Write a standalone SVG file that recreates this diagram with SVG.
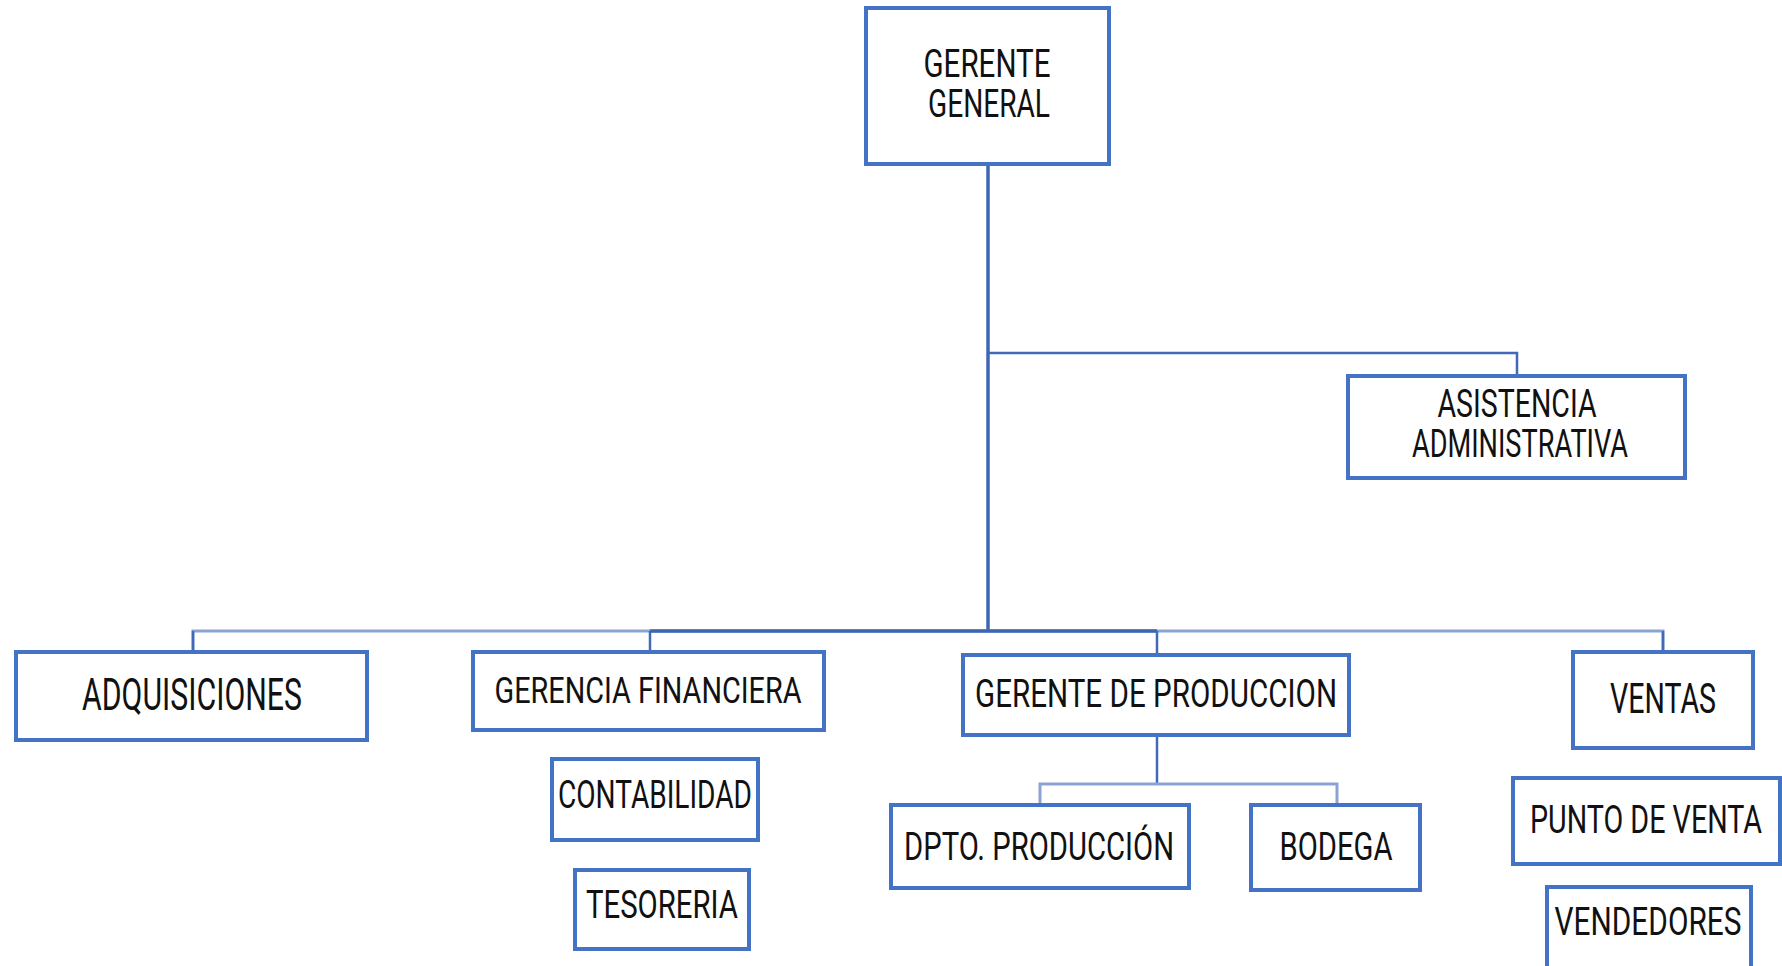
<svg xmlns="http://www.w3.org/2000/svg" width="1782" height="966" viewBox="0 0 1782 966">
<style>
.box{fill:#ffffff;stroke:#4472C4;stroke-width:4}
.t{font-family:Roboto,"Liberation Sans",sans-serif;font-size:38px;fill:#111111;text-anchor:middle}
.c{fill:none;stroke:#4169B8;stroke-width:2.5}
.cl{fill:none;stroke:#8AA3D4;stroke-width:3}
.cm{fill:none;stroke:#3F66B3;stroke-width:3.5}
</style>
<rect width="1782" height="966" fill="#ffffff"/>
<g id="connectors">
<path class="cm" d="M988 164 V631"/>
<path class="c" d="M988 353 H1517 V376"/>
<path class="cl" d="M193 652 V631 H1663 V652"/>
<path class="c" d="M193 652 V631"/>
<path class="c" d="M650 652 V631"/>
<path class="cm" d="M650 631 H1157"/>
<path class="c" d="M1157 631 V655"/>
<path class="c" d="M1663 631 V652"/>
<path class="c" d="M1157 735 V784"/>
<path class="cl" d="M1040 805 V784 H1337 V805"/>
</g>
<g id="gerente-general">
<rect class="box" x="866" y="8" width="243" height="156"/>
<text class="t" x="987" y="77" textLength="127" lengthAdjust="spacingAndGlyphs">GERENTE</text>
<text class="t" x="989" y="117" textLength="122" lengthAdjust="spacingAndGlyphs">GENERAL</text>
</g>
<g id="asistencia">
<rect class="box" x="1348" y="376" width="337" height="102"/>
<text class="t" x="1517" y="417" textLength="159" lengthAdjust="spacingAndGlyphs">ASISTENCIA</text>
<text class="t" x="1520" y="457" textLength="216" lengthAdjust="spacingAndGlyphs">ADMINISTRATIVA</text>
</g>
<g id="adquisiciones">
<rect class="box" x="16" y="652" width="351" height="88"/>
<text class="t" x="192" y="710" style="font-size:44px" textLength="220" lengthAdjust="spacingAndGlyphs">ADQUISICIONES</text>
</g>
<g id="gerencia-financiera">
<rect class="box" x="473" y="652" width="351" height="78"/>
<text class="t" x="648" y="703" style="font-size:37px" textLength="307" lengthAdjust="spacingAndGlyphs">GERENCIA FINANCIERA</text>
</g>
<g id="contabilidad">
<rect class="box" x="552" y="759" width="206" height="81"/>
<text class="t" x="655" y="808" textLength="194" lengthAdjust="spacingAndGlyphs">CONTABILIDAD</text>
</g>
<g id="tesoreria">
<rect class="box" x="575" y="870" width="174" height="79"/>
<text class="t" x="662" y="918" textLength="152" lengthAdjust="spacingAndGlyphs">TESORERIA</text>
</g>
<g id="gerente-produccion">
<rect class="box" x="963" y="655" width="386" height="80"/>
<text class="t" x="1156" y="707" textLength="362" lengthAdjust="spacingAndGlyphs">GERENTE DE PRODUCCION</text>
</g>
<g id="dpto-produccion">
<rect class="box" x="891" y="805" width="298" height="83"/>
<text class="t" x="1039" y="860" textLength="270" lengthAdjust="spacingAndGlyphs">DPTO. PRODUCCIÓN</text>
</g>
<g id="bodega">
<rect class="box" x="1251" y="805" width="169" height="85"/>
<text class="t" x="1336" y="860" textLength="113" lengthAdjust="spacingAndGlyphs">BODEGA</text>
</g>
<g id="ventas">
<rect class="box" x="1573" y="652" width="180" height="96"/>
<text class="t" x="1663" y="713" style="font-size:42px" textLength="106" lengthAdjust="spacingAndGlyphs">VENTAS</text>
</g>
<g id="punto-de-venta">
<rect class="box" x="1513" y="778" width="267" height="86"/>
<text class="t" x="1646" y="833" textLength="232" lengthAdjust="spacingAndGlyphs">PUNTO DE VENTA</text>
</g>
<g id="vendedores">
<rect class="box" x="1547" y="887" width="204" height="95"/>
<text class="t" x="1648" y="935" textLength="187" lengthAdjust="spacingAndGlyphs">VENDEDORES</text>
</g>
</svg>
